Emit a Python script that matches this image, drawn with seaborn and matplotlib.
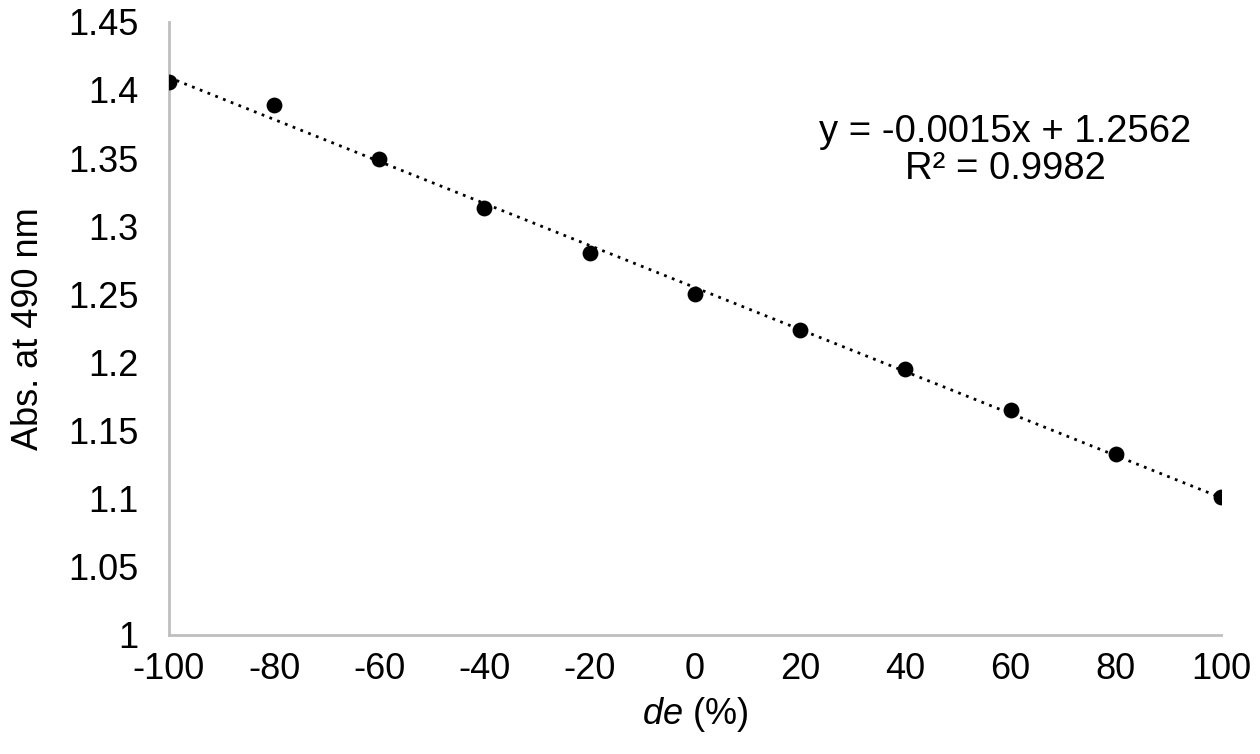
import matplotlib
matplotlib.use("Agg")
import matplotlib.pyplot as plt
import matplotlib.ticker as mticker
import pandas as pd
import seaborn as sns

# values
de_pct = [-100, -80, -60, -40, -20, 0, 20, 40, 60, 80, 100]
absorbance = [1.406, 1.389, 1.349, 1.313, 1.280, 1.250, 1.224, 1.195, 1.165, 1.133, 1.101]
fit_text = "y = -0.0015x + 1.2562\nR\u00b2 = 0.9982"

df = pd.DataFrame({"de": de_pct, "abs": absorbance})

sns.set_theme(style="white")
plt.rcParams["font.family"] = ["Liberation Sans", "DejaVu Sans"]
plt.rcParams["mathtext.fontset"] = "custom"
plt.rcParams["mathtext.rm"] = "Liberation Sans"
plt.rcParams["mathtext.it"] = "Liberation Sans:italic"
plt.rcParams["axes.unicode_minus"] = False
plt.rcParams["text.color"] = "black"
plt.rcParams["axes.labelcolor"] = "black"

fig = plt.figure(figsize=(12.6, 7.54), dpi=100)
ax = fig.add_axes([0.134, 0.158, 0.835, 0.813])

sns.regplot(
    data=df, x="de", y="abs", ax=ax, ci=None, truncate=True,
    scatter_kws={"s": 130, "color": "black", "alpha": 1, "zorder": 3, "linewidths": 0},
    line_kws={"color": "black", "linestyle": (0, (1, 2)), "linewidth": 2},
)

ax.set_xlim(-100, 100)
ax.set_ylim(1.0, 1.45)
ax.set_xticks(range(-100, 101, 20))
ax.set_yticks([1.0 + 0.05 * i for i in range(10)])
ax.yaxis.set_major_formatter(mticker.FormatStrFormatter("%g"))
ax.tick_params(axis="both", labelsize=26, length=0, colors="black")
ax.tick_params(axis="y", pad=22)
ax.tick_params(axis="x", pad=12)

for side in ["top", "right"]:
    ax.spines[side].set_visible(False)
for side in ["left", "bottom"]:
    ax.spines[side].set_color("#bfbfbf")
    ax.spines[side].set_linewidth(2)

ax.set_xlabel(r"$\it{de}$ (%)", fontsize=26, labelpad=6)
ax.set_ylabel("Abs. at 490 nm", fontsize=26, labelpad=16)

ax.text(0.795, 0.79, fit_text, transform=ax.transAxes, ha="center", va="center",
        fontsize=27.5, linespacing=1.05)

fig.savefig("out.png", dpi=100)
